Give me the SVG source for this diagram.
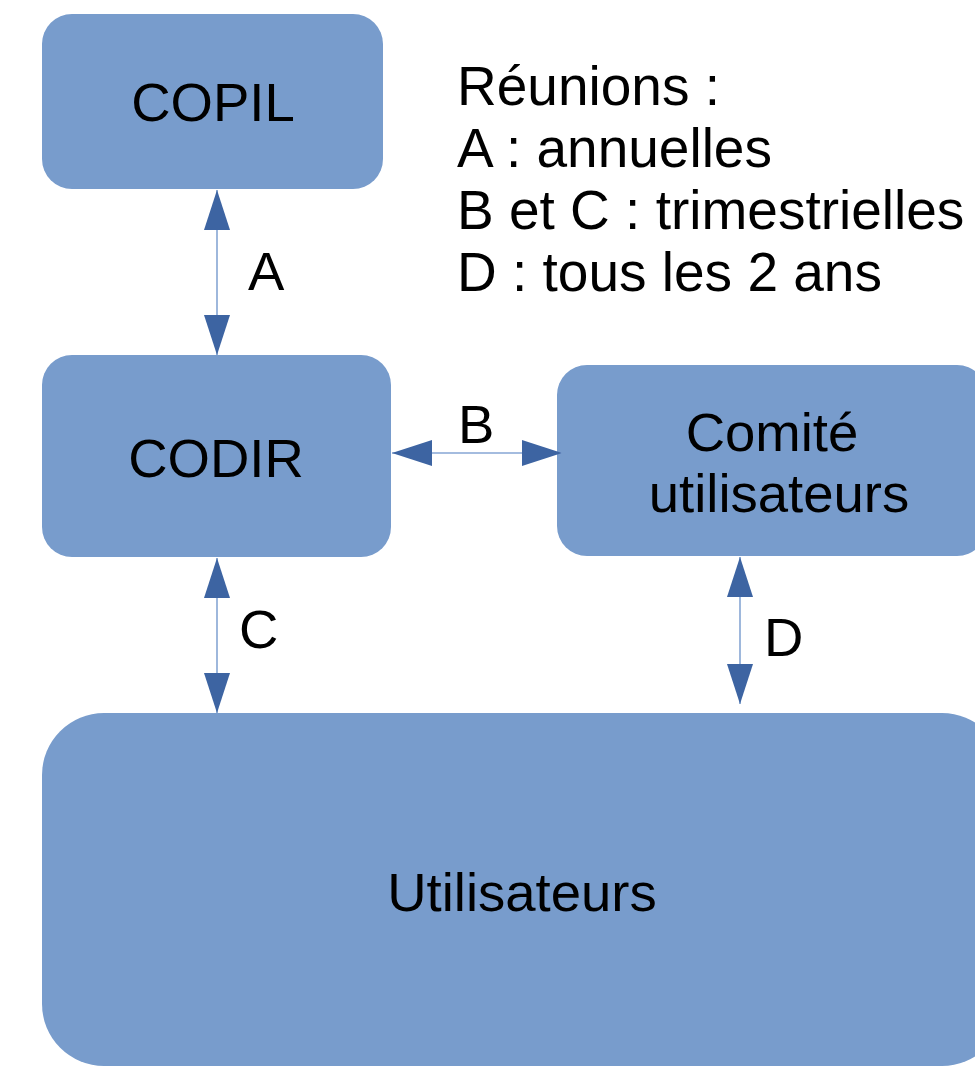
<svg xmlns="http://www.w3.org/2000/svg" width="975" height="1067" viewBox="0 0 975 1067">
  <style>
    .box { fill: #789ccc; }
    .lbl { font-family: "Liberation Sans", Arial, sans-serif; font-size: 54.5px; fill: #000; }
    .leg { font-size: 55px; }
    .mid { text-anchor: middle; }
    .link { stroke: #86a6d4; stroke-width: 1.6; fill: none; }
  </style>
  <defs>
    <marker id="head" viewBox="0 0 40 26" refX="40" refY="13" markerWidth="40" markerHeight="26" markerUnits="userSpaceOnUse" orient="auto-start-reverse">
      <path d="M0,0 L40,13 L0,26 Z" fill="#3d64a2"/>
    </marker>
  </defs>
  <rect width="975" height="1067" fill="#ffffff"/>

  <g id="copil">
    <rect class="box" x="42" y="14" width="341" height="175" rx="30" ry="30"/>
    <text class="lbl mid" x="213" y="121">COPIL</text>
  </g>

  <g id="codir">
    <rect class="box" x="42" y="355" width="349" height="202" rx="30" ry="30"/>
    <text class="lbl mid" x="216" y="477">CODIR</text>
  </g>

  <g id="comite">
    <rect class="box" x="557" y="365" width="430" height="191" rx="30" ry="30"/>
    <text class="lbl mid" x="772" y="451">Comité</text>
    <text class="lbl mid" x="779" y="512">utilisateurs</text>
  </g>

  <g id="utilisateurs">
    <rect class="box" x="42" y="713" width="962" height="353" rx="62" ry="62"/>
    <text class="lbl mid" x="522" y="911">Utilisateurs</text>
  </g>

  <g id="legend">
    <text class="lbl leg" x="457" y="105">Réunions :</text>
    <text class="lbl leg" x="457" y="167">A : annuelles</text>
    <text class="lbl leg" x="457" y="229">B et C : trimestrielles</text>
    <text class="lbl leg" x="457" y="291">D : tous les 2 ans</text>
  </g>

  <g id="connectors">
    <line class="link" x1="217" y1="190" x2="217" y2="355" marker-start="url(#head)" marker-end="url(#head)"/>
    <line class="link" x1="392" y1="453" x2="562" y2="453" marker-start="url(#head)" marker-end="url(#head)"/>
    <line class="link" x1="217" y1="558" x2="217" y2="713" marker-start="url(#head)" marker-end="url(#head)"/>
    <line class="link" x1="740" y1="557" x2="740" y2="704" marker-start="url(#head)" marker-end="url(#head)"/>
    <text class="lbl" x="248" y="290">A</text>
    <text class="lbl" x="458" y="443">B</text>
    <text class="lbl" x="239" y="648">C</text>
    <text class="lbl" x="764" y="656">D</text>
  </g>
</svg>
